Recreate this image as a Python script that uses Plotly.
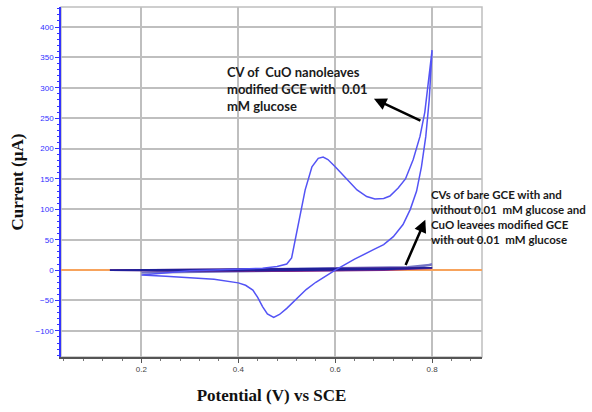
import plotly.graph_objects as go

# CuO nanoleaves modified GCE with 0.01 mM glucose: anodic then cathodic sweep
cuo_glu_v = [0.2, 0.25, 0.3, 0.35, 0.4, 0.45, 0.48, 0.5, 0.51, 0.515, 0.521, 0.53, 0.538,
             0.552, 0.565, 0.575, 0.585, 0.6, 0.62, 0.645, 0.665, 0.682, 0.7, 0.713, 0.73,
             0.745, 0.761, 0.775, 0.785, 0.793, 0.8,
             0.794, 0.787, 0.778, 0.768, 0.755, 0.74, 0.72, 0.7, 0.68, 0.64, 0.6, 0.58,
             0.56, 0.54, 0.52, 0.5, 0.485, 0.473, 0.46, 0.45, 0.44, 0.43, 0.415, 0.4,
             0.35, 0.3, 0.25, 0.2]
cuo_glu_i = [-8, -4, -1, 0, 1, 3, 6, 10, 20, 40, 60, 100, 132,
             170, 184, 186, 182, 170, 153, 132, 121, 117, 118, 122, 135,
             150, 182, 220, 260, 310, 362,
             280, 220, 170, 130, 100, 75, 55, 42, 34, 18, 0, -10,
             -20, -32, -48, -63, -73, -78, -72, -60, -45, -33, -25, -21,
             -15, -12, -10, -8]

# Bare GCE without glucose
bare_v = [0.135, 0.2, 0.3, 0.4, 0.5, 0.6, 0.7, 0.8, 0.7, 0.6, 0.5, 0.4, 0.3, 0.2, 0.135]
bare_i = [0, 0.5, 1, 1.5, 2, 2.5, 3, 4, 1, 0, -0.5, -1, -1, -0.5, 0]

# Bare GCE with 0.01 mM glucose
bare_glu_v = [0.135, 0.2, 0.3, 0.4, 0.5, 0.6, 0.7, 0.8, 0.7, 0.6, 0.5, 0.4, 0.3, 0.2, 0.135]
bare_glu_i = [0, 0, 0.5, 1, 1.5, 2, 2.5, 3.5, 0, -1, -1.5, -1.5, -1, -0.5, 0]

# CuO leaves modified GCE without glucose
cuo_v = [0.2, 0.3, 0.4, 0.5, 0.6, 0.7, 0.75, 0.8, 0.75, 0.7, 0.6, 0.5, 0.4, 0.3, 0.2]
cuo_i = [-4, -1, 1, 2, 3, 4, 5, 9, 3, 1, 0, -1, -2, -3, -4]

x_ticks = [0.2, 0.4, 0.6, 0.8]
y_ticks = [-100, -50, 0, 50, 100, 150, 200, 250, 300, 350, 400]
x_range = [0.034, 0.903]
y_range = [-143, 433]

GRID = "#bfbfbf"

fig = go.Figure()
fig.add_trace(go.Scatter(x=cuo_v, y=cuo_i, mode="lines",
                         line=dict(color="#7474c4", width=2.2)))
fig.add_trace(go.Scatter(x=bare_glu_v, y=bare_glu_i, mode="lines",
                         line=dict(color="#8e2a86", width=1.8)))
fig.add_trace(go.Scatter(x=bare_v, y=bare_i, mode="lines",
                         line=dict(color="#20209a", width=1.6)))
fig.add_trace(go.Scatter(x=cuo_glu_v, y=cuo_glu_i, mode="lines",
                         line=dict(color="#5353f5", width=1.5)))

fig.update_layout(
    template="none",
    width=592, height=412,
    margin=dict(l=61, r=110, t=7, b=55),
    paper_bgcolor="white", plot_bgcolor="white",
    showlegend=False,
    xaxis=dict(
        range=x_range, tickvals=x_ticks, ticktext=[f"{v:.1f}" for v in x_ticks],
        showgrid=True, gridcolor=GRID, gridwidth=1.5,
        zeroline=False, showline=True, linecolor="#555555", linewidth=1.5, mirror=False,
        ticks="outside", ticklen=4, tickcolor="#555555",
        minor=dict(dtick=0.04, tick0=0, ticks="outside", ticklen=2, tickcolor="#777777", showgrid=False),
        tickfont=dict(family="Liberation Sans", size=8, color="#444444"),
        title=dict(text="<b>Potential (V) vs SCE</b>",
                   font=dict(family="Liberation Serif", size=17, color="#111111"), standoff=16),
    ),
    yaxis=dict(
        range=y_range, tickvals=y_ticks,
        showgrid=True, gridcolor=GRID, gridwidth=1.5,
        zeroline=True, zerolinecolor="#f7a35c", zerolinewidth=1.5,
        showline=True, linecolor="#3333ff", linewidth=1.5,
        ticks="outside", ticklen=4, tickcolor="#3333ff",
        minor=dict(dtick=10, tick0=0, ticks="outside", ticklen=2, tickcolor="#3333ff", showgrid=False),
        tickfont=dict(family="Liberation Sans", size=8, color="#3030ff"),
        title=dict(text="<b>Current (µA)</b>",
                   font=dict(family="Liberation Serif", size=17, color="#111111"), standoff=8),
    ),
    shapes=[dict(type="rect", xref="paper", yref="paper", x0=0, x1=1, y0=0, y1=1,
                 fillcolor="rgba(0,0,0,0)", line=dict(color=GRID, width=1.5), layer="below")],
    annotations=[
        dict(x=0.68, y=282, ax=0.779, ay=245, xref="x", yref="y", axref="x", ayref="y",
             text="", showarrow=True, arrowhead=2, arrowsize=1, arrowwidth=2.5, arrowcolor="black"),
        dict(x=0.786, y=83, ax=0.744, ay=6, xref="x", yref="y", axref="x", ayref="y",
             text="", showarrow=True, arrowhead=2, arrowsize=1, arrowwidth=2.5, arrowcolor="black"),
        dict(x=0.372, y=298, xref="x", yref="y", xanchor="left", yanchor="middle", align="left",
             showarrow=False, font=dict(family="Lato", size=13, color="#1a1a1a"),
             text="<b>CV of  CuO nanoleaves<br>modified GCE with  0.01<br>mM glucose</b>"),
        dict(x=0.793, y=88, xref="x", yref="y", xanchor="left", yanchor="middle", align="left",
             showarrow=False, font=dict(family="Lato", size=11.5, color="#1a1a1a"),
             text="<b>CVs of bare GCE with and<br>without 0.01  mM glucose and<br>"
                  "CuO leavees modified GCE<br>with out 0.01  mM glucose</b>"),
    ],
)

fig.write_html("out.html")
